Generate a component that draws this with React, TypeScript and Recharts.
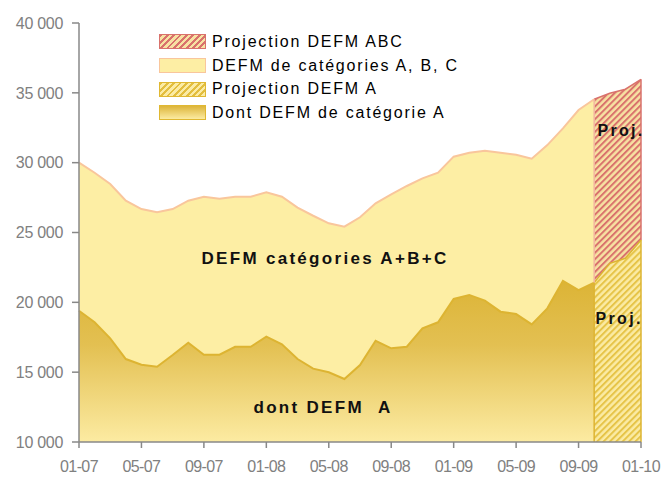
import React from "react";
import {
  ComposedChart,
  Area,
  XAxis,
  YAxis,
  ReferenceDot,
  ReferenceLine,
  Legend,
} from "recharts";

// mois 01-07 .. 01-10 (index 0..36)
const months = [
  "01-07", "02-07", "03-07", "04-07", "05-07", "06-07", "07-07", "08-07", "09-07", "10-07", "11-07", "12-07",
  "01-08", "02-08", "03-08", "04-08", "05-08", "06-08", "07-08", "08-08", "09-08", "10-08", "11-08", "12-08",
  "01-09", "02-09", "03-09", "04-09", "05-09", "06-09", "07-09", "08-09", "09-09", "10-09", "11-09", "12-09",
  "01-10",
];

// DEFM catégories A, B, C (observé, 01-07 .. 10-09)
const defmABC = [
  30000, 29280, 28470, 27280, 26680, 26450, 26680, 27280, 27560, 27420, 27560, 27560,
  27880, 27560, 26780, 26200, 25660, 25420, 26090, 27090, 27730, 28330, 28880, 29280,
  30430, 30710, 30860, 30710, 30570, 30280, 31260, 32460, 33770, 34540,
];

// projection ABC (10-09 .. 01-10)
const projABC = [34540, 34970, 35260, 35970];

// dont DEFM catégorie A
const defmA = [
  19400, 18570, 17420, 15940, 15530, 15390, 16230, 17110, 16250, 16250, 16820, 16820,
  17540, 16990, 15940, 15250, 14990, 14510, 15510, 17250, 16710, 16820, 18140, 18570,
  20240, 20530, 20120, 19330, 19160, 18420, 19570, 21530, 20880, 21410,
];

const projA = [21410, 22790, 23150, 24460];

const projStart = defmABC.length - 1;

const yTicks = [10000, 15000, 20000, 25000, 30000, 35000, 40000];
const xTicks = [0, 4, 8, 12, 16, 20, 24, 28, 32, 36];

const data = months.map((m, i) => ({
  i,
  month: m,
  abc: i <= projStart ? defmABC[i] : null,
  abcProj: i >= projStart ? projABC[i - projStart] : null,
  a: i <= projStart ? defmA[i] : null,
  aProj: i >= projStart ? projA[i - projStart] : null,
}));

const fmt = (v: number) => {
  const s = String(v);
  return s.slice(0, s.length - 3) + " " + s.slice(-3);
};

const FONT = "'Liberation Sans', Arial, sans-serif";

const legendItems = [
  {
    label: "Projection DEFM ABC",
    bg: "repeating-linear-gradient(135deg, #D9726C 0 2px, #F7E2A2 2px 4.5px)",
    border: "#D9726C",
  },
  { label: "DEFM de catégories A, B, C", bg: "#FDEEA4", border: "#F9C69C" },
  {
    label: "Projection DEFM A",
    bg: "repeating-linear-gradient(135deg, #E3BE3E 0 2px, #FBEBA4 2px 4.5px)",
    border: "#E0B832",
  },
  {
    label: "Dont DEFM de catégorie A",
    bg: "linear-gradient(#DDB53A, #FCEBA2)",
    border: "#E0B832",
  },
];

function ChartLegend() {
  return (
    <div style={{ fontFamily: FONT }}>
      {legendItems.map((it) => (
        <div key={it.label} style={{ display: "flex", alignItems: "center", height: 23.7 }}>
          <div
            style={{
              width: 45,
              height: 13,
              background: it.bg,
              border: `1px solid ${it.border}`,
              marginRight: 6,
            }}
          />
          <span style={{ fontSize: 16, letterSpacing: 1.8, color: "#000", whiteSpace: "pre" }}>
            {it.label}
          </span>
        </div>
      ))}
    </div>
  );
}

const bold = {
  fill: "#111",
  fontSize: 17,
  fontWeight: 700,
  letterSpacing: 2.3,
  fontFamily: FONT,
};

export default function App() {
  return (
    <div style={{ position: "absolute", left: 0, top: 0, width: 661, height: 477, background: "#fff" }}>
      <ComposedChart
        width={661}
        height={477}
        data={data}
        margin={{ top: 23, right: 20, bottom: 0, left: 0 }}
      >
        <defs>
          <pattern id="hatchABC" patternUnits="userSpaceOnUse" width="4.5" height="4.5" patternTransform="rotate(45)">
            <rect width="4.5" height="4.5" fill="#F7E2A2" />
            <rect width="2" height="4.5" fill="#D9726C" />
          </pattern>
          <pattern id="hatchA" patternUnits="userSpaceOnUse" width="4.5" height="4.5" patternTransform="rotate(45)">
            <rect width="4.5" height="4.5" fill="#FBEBA4" />
            <rect width="2" height="4.5" fill="#E6C448" />
          </pattern>
          <linearGradient id="gradA" x1="0" y1="0" x2="0" y2="1">
            <stop offset="0%" stopColor="#DCB436" />
            <stop offset="40%" stopColor="#E3C052" />
            <stop offset="100%" stopColor="#FCEBA2" />
          </linearGradient>
        </defs>
        <XAxis
          dataKey="i"
          type="number"
          domain={[0, 36]}
          ticks={xTicks}
          tickFormatter={(v: number) => months[v]}
          height={35}
          tickSize={6}
          tickMargin={13}
          stroke="#888"
          strokeWidth={1.5}
          tick={{ fill: "#808080", fontSize: 16, fontFamily: FONT, letterSpacing: -0.6 }}
          interval={0}
        />
        <YAxis
          type="number"
          domain={[10000, 40000]}
          ticks={yTicks}
          tickFormatter={fmt}
          width={79}
          tickSize={7}
          tickMargin={9}
          stroke="#888"
          strokeWidth={1.5}
          tick={{ fill: "#808080", fontSize: 16, fontFamily: FONT, letterSpacing: -0.3 }}
          interval={0}
        />
        <Area
          dataKey="abc"
          fill="#FDEEA4"
          fillOpacity={1}
          stroke="#F9C69C"
          strokeWidth={2}
          dot={false}
          activeDot={false}
          isAnimationActive={false}
        />
        <Area
          dataKey="abcProj"
          fill="url(#hatchABC)"
          fillOpacity={1}
          stroke="#D9726C"
          strokeWidth={1.5}
          dot={false}
          activeDot={false}
          isAnimationActive={false}
        />
        <Area
          dataKey="a"
          fill="url(#gradA)"
          fillOpacity={1}
          stroke="#DDB432"
          strokeWidth={2}
          dot={false}
          activeDot={false}
          isAnimationActive={false}
        />
        <Area
          dataKey="aProj"
          fill="url(#hatchA)"
          fillOpacity={1}
          stroke="#DDB432"
          strokeWidth={1.5}
          dot={false}
          activeDot={false}
          isAnimationActive={false}
        />
        <ReferenceLine
          segment={[{ x: projStart, y: projA[0] }, { x: projStart, y: projABC[0] }]}
          stroke="#F3B7A0"
          strokeWidth={1.5}
        />
        <ReferenceLine
          segment={[{ x: projStart, y: 10000 }, { x: projStart, y: projA[0] }]}
          stroke="#DDB432"
          strokeWidth={1.5}
        />
        <ReferenceLine
          segment={[{ x: 36, y: projA[3] }, { x: 36, y: projABC[3] }]}
          stroke="#D9726C"
          strokeWidth={1.5}
        />
        <ReferenceLine
          segment={[{ x: 36, y: 10000 }, { x: 36, y: projA[3] }]}
          stroke="#DDB432"
          strokeWidth={1.5}
        />
        <ReferenceDot x={15.76} y={23170} r={0} label={{ value: "DEFM catégories A+B+C", position: "center", ...bold }} />
        <ReferenceDot x={15.63} y={12500} r={0} label={{ value: "dont DEFM\u00a0\u00a0A", position: "center", ...bold }} />
        <ReferenceDot x={34.72} y={32340} r={0} label={{ value: "Proj.", position: "center", ...bold, fontSize: 16 }} />
        <ReferenceDot x={34.6} y={18880} r={0} label={{ value: "Proj.", position: "center", ...bold, fontSize: 16 }} />
        <Legend
          layout="vertical"
          align="center"
          verticalAlign="middle"
          content={() => <ChartLegend />}
          wrapperStyle={{ left: 159, top: 30, width: 340, height: 100 }}
        />
      </ComposedChart>
    </div>
  );
}
